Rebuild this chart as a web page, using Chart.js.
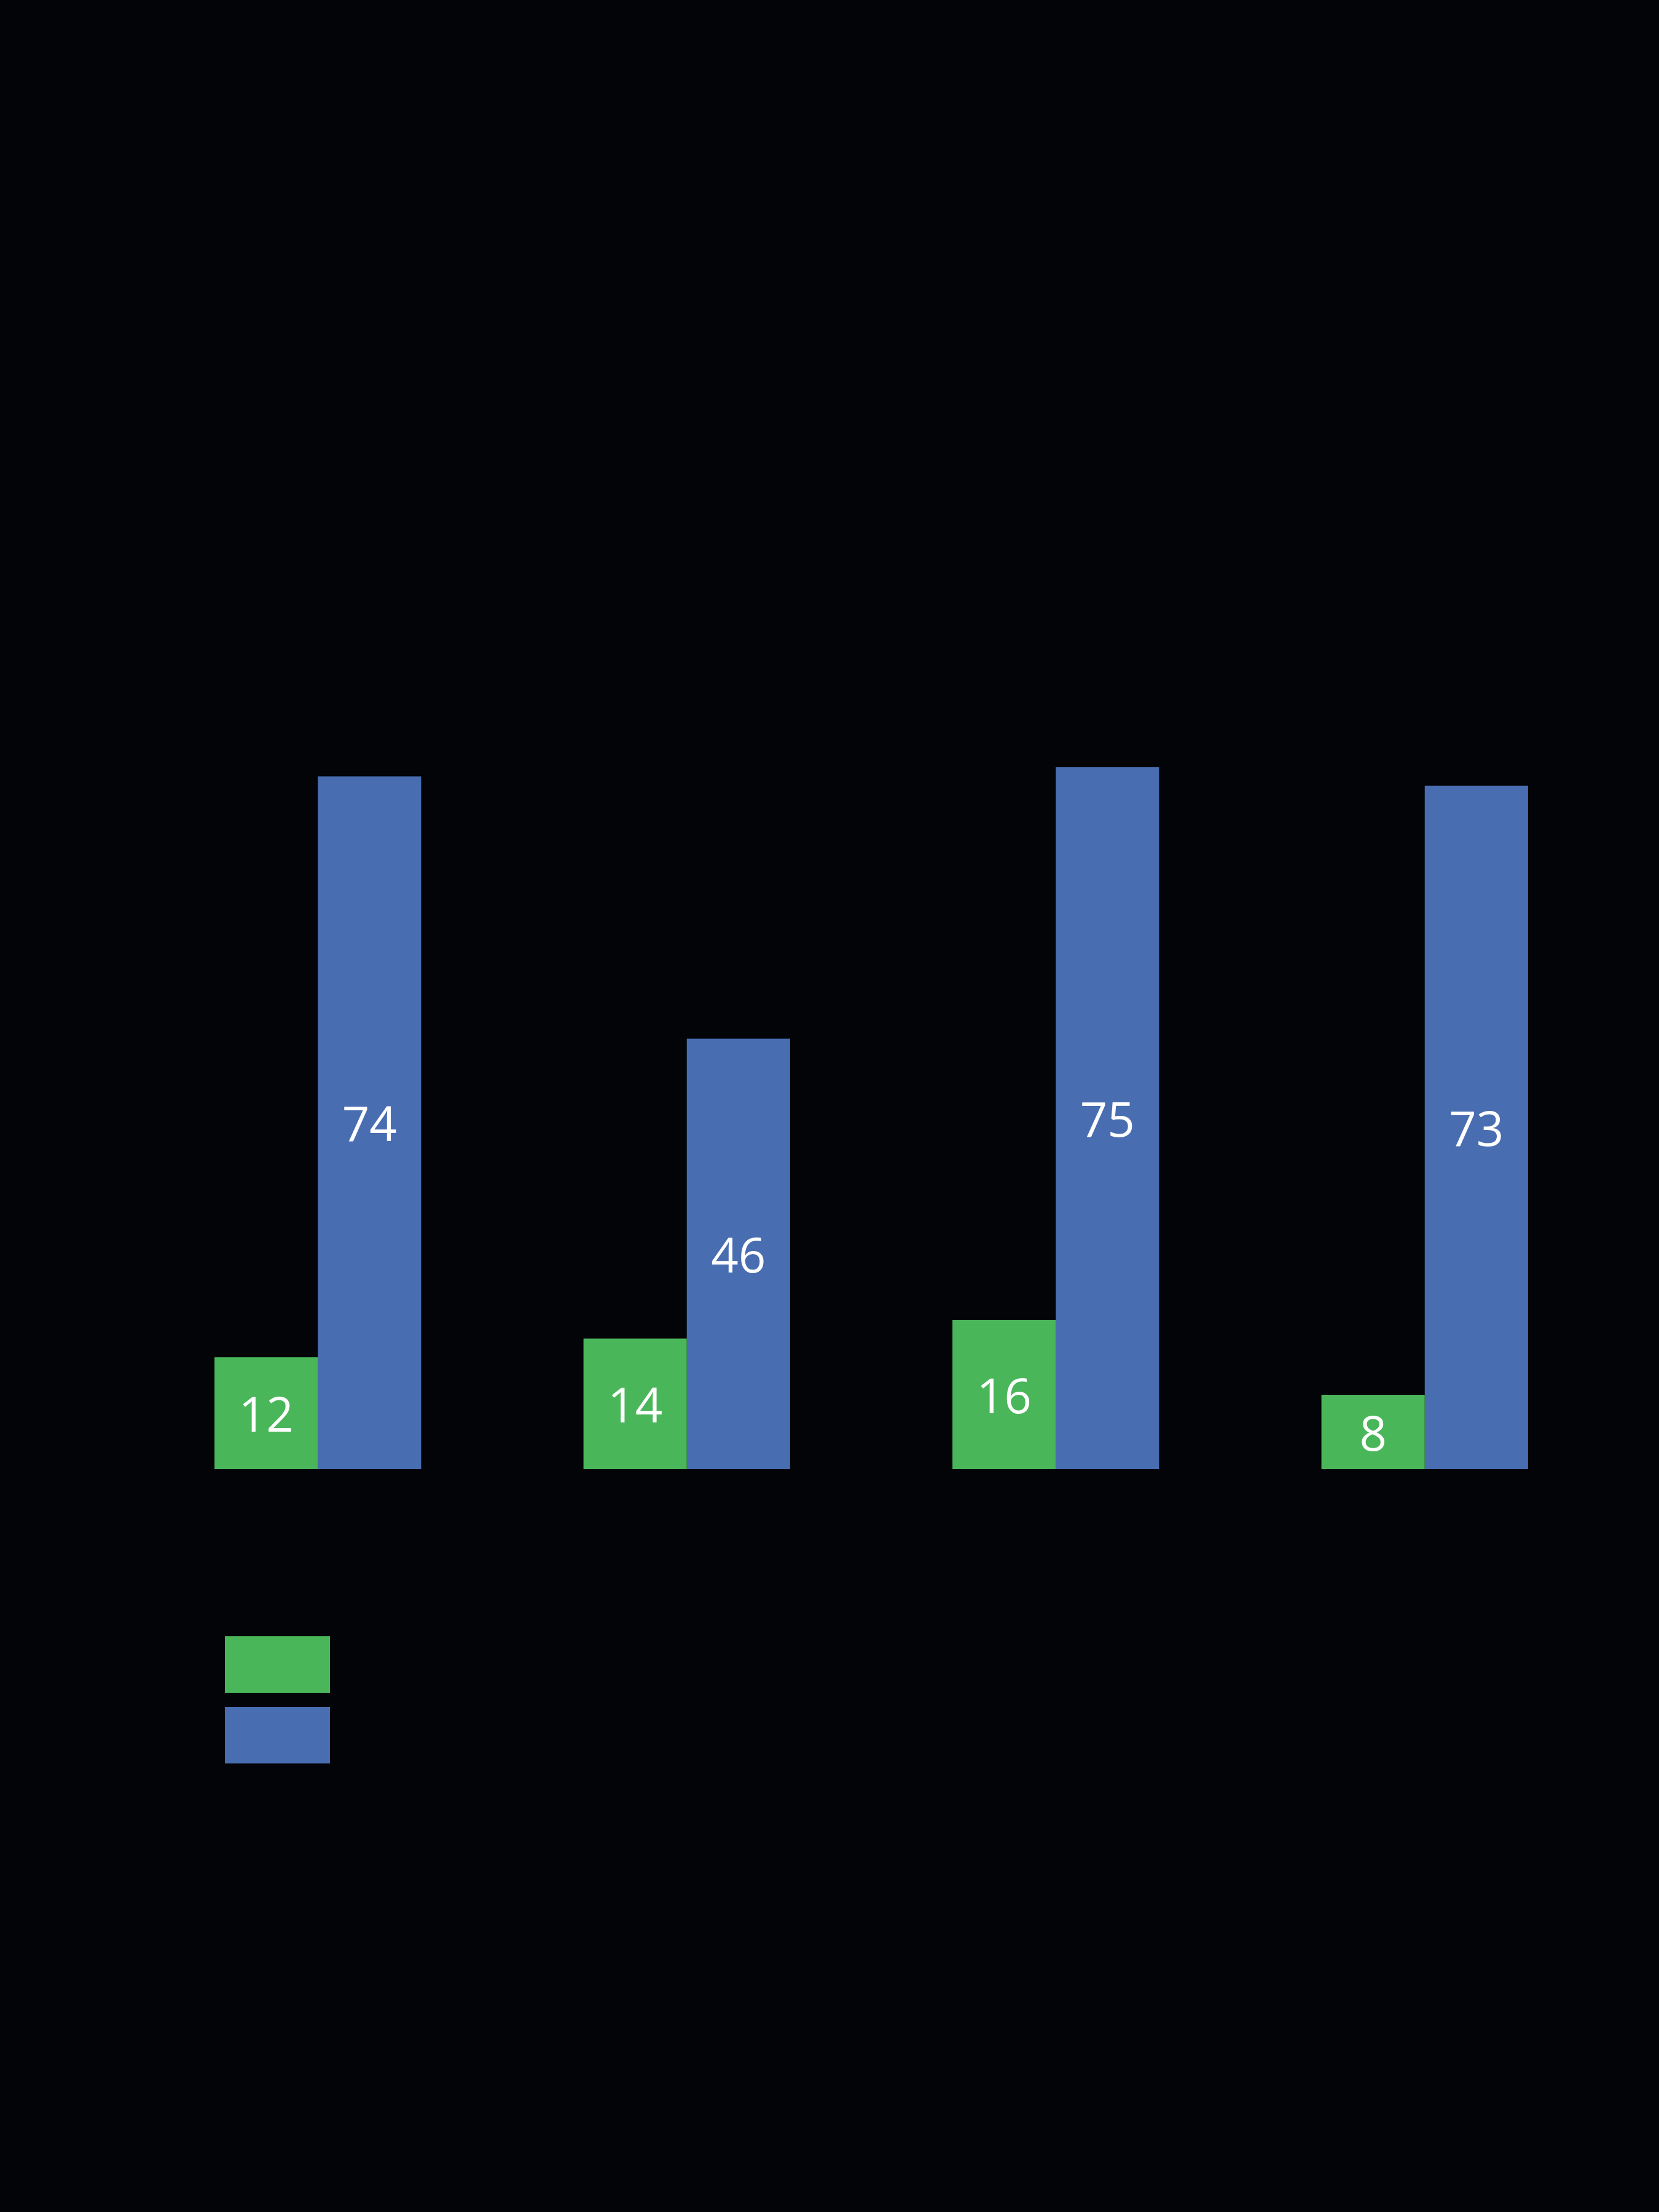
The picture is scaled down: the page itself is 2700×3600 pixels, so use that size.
<!DOCTYPE html>
<html>
<head>
<meta charset="utf-8">
<script src="https://cdn.jsdelivr.net/npm/chart.js@4"></script>
<style>
    body { margin: 0; background: #030407; }
    #wrap { position: relative; width: 2700px; height: 3600px; }
    .legend { position: absolute; left: 366px; top: 2663px; list-style: none; margin: 0; padding: 0; }
    .legend li { display: flex; align-items: center; height: 92px; margin-bottom: 23px; }
    .legend .square { display: inline-block; width: 171px; height: 92px; }
    .legend .labels { margin-left: 30px; font: 60px 'Open Sans', sans-serif; color: #030407; }
</style>
</head>
<body>
<div id="wrap">
    <canvas id="chart"></canvas>
    <ul class="legend" id="legend"></ul>
</div>
<script>
// Data
const categories = ['Group 1', 'Group 2', 'Group 3', 'Group 4'];
const seriesNames = ['Series 1', 'Series 2'];
const greenValues = [12, 14, 16, 8];
const blueValues = [74, 46, 75, 73];
const colors = ['#4AB65A', '#486DB1'];
const bg = '#030407'; // text and grid are the same colour as the page, as in the picture

Chart.defaults.font.family = "'Open Sans', sans-serif";

// values drawn in the middle of each bar
const barLabels = {
    id: 'barLabels',
    afterDatasetsDraw(chart) {
        const ctx = chart.ctx;
        ctx.save();
        ctx.fillStyle = '#ffffff';
        ctx.font = "78px 'Open Sans', sans-serif";
        ctx.textAlign = 'center';
        ctx.textBaseline = 'middle';
        chart.data.datasets.forEach((ds, i) => {
            chart.getDatasetMeta(i).data.forEach((bar, j) => {
                ctx.fillText(ds.data[j], bar.x, (bar.y + bar.base) / 2 + 8);
            });
        });
        ctx.restore();
    },
};

new Chart(document.getElementById('chart'), {
    type: 'bar',
    data: {
        labels: categories,
        datasets: [
            { label: seriesNames[0], data: greenValues, backgroundColor: colors[0] },
            { label: seriesNames[1], data: blueValues, backgroundColor: colors[1] },
        ],
    },
    options: {
        responsive: true,
        maintainAspectRatio: false,
        animation: false,
        layout: {
            padding: { top: 1172, right: 81, left: 0, bottom: 0 },
        },
        datasets: {
            bar: { categoryPercentage: 0.56, barPercentage: 1.0 },
        },
        scales: {
            x: {
                grid: { display: false },
                border: { color: bg },
                ticks: { color: bg, font: { size: 60 } },
                afterFit: (scale) => { scale.height = 1208; },
            },
            y: {
                min: 0,
                max: 80,
                grid: { color: bg, lineWidth: 2 },
                border: { display: false },
                ticks: { stepSize: 10, color: bg, font: { size: 60 } },
                afterFit: (scale) => { scale.width = 217; },
            },
        },
        plugins: {
            legend: { display: false },
            tooltip: { enabled: false },
        },
    },
    plugins: [barLabels],
});

document.getElementById('legend').innerHTML = seriesNames.map((name, i) => `
    <li>
        <span class="square" style="background-color: ${colors[i]};"></span>
        <span class="labels">${name}</span>
    </li>`).join('');
</script>
</body>
</html>
